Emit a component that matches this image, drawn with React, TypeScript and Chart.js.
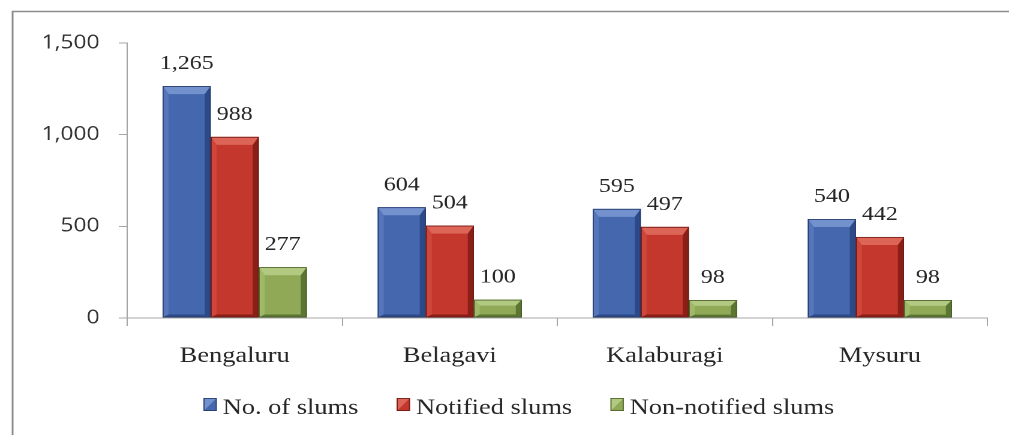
import React, { useEffect, useRef } from 'react';
import { Chart, registerables } from 'chart.js';

Chart.register(...registerables);

const categories = ['Bengaluru', 'Belagavi', 'Kalaburagi', 'Mysuru'];
const seriesNames = ['No. of slums', 'Notified slums', 'Non-notified slums'];
const totalSlums = [1265, 604, 595, 540];
const notifiedSlums = [988, 504, 497, 442];
const nonNotifiedSlums = [277, 100, 98, 98];
const yMin = 0;
const yMax = 1500;
const yStep = 500;

const baseColors = ['#4567ae', '#c4372d', '#8fa957'];
const topColors = ['#7391cc', '#dd6558', '#b2c982'];
const leftColors = ['#5576bb', '#ce463c', '#9fb968'];
const sideColors = ['#2d4a88', '#8a1f17', '#5b7532'];
const outlineColors = ['#223869', '#6b1711', '#475c26'];

const SERIF = '"Liberation Serif", "Times New Roman", serif';
const SANS = '"Open Sans", "Liberation Sans", sans-serif';
const TEXT_COLOR = '#262626';

const CANVAS_W = 841;
const CANVAS_H = 435;
const DISPLAY_W = 1009;

const borderPlugin = {
  id: 'frameBorder',
  beforeDraw(chart: any) {
    const ctx = chart.ctx;
    ctx.save();
    ctx.strokeStyle = '#8c8c8c';
    ctx.lineWidth = 1.5;
    ctx.beginPath();
    ctx.moveTo(10.5, chart.height + 5);
    ctx.lineTo(10.5, 11.5);
    ctx.lineTo(chart.width + 5, 11.5);
    ctx.stroke();
    ctx.restore();
  },
};

const bevelPlugin = {
  id: 'bevelBars',
  afterDatasetsDraw(chart: any) {
    const ctx = chart.ctx;
    chart.data.datasets.forEach((ds: any, di: number) => {
      const meta = chart.getDatasetMeta(di);
      meta.data.forEach((bar: any) => {
        const { x, y, base, width } = bar.getProps(['x', 'y', 'base', 'width'], true);
        const left = x - width / 2;
        const right = x + width / 2;
        const top = Math.min(y, base);
        const bottom = Math.max(y, base);
        const h = bottom - top;
        const b = Math.min(5, width / 4);
        const bv = Math.min(8, h / 3);
        const bb = Math.min(3, h / 6);
        ctx.save();
        ctx.fillStyle = topColors[di];
        ctx.beginPath();
        ctx.moveTo(left, top);
        ctx.lineTo(right, top);
        ctx.lineTo(right - b, top + bv);
        ctx.lineTo(left + b, top + bv);
        ctx.closePath();
        ctx.fill();
        ctx.fillStyle = leftColors[di];
        ctx.beginPath();
        ctx.moveTo(left, top);
        ctx.lineTo(left + b, top + bv);
        ctx.lineTo(left + b, bottom - bb);
        ctx.lineTo(left, bottom);
        ctx.closePath();
        ctx.fill();
        ctx.fillStyle = sideColors[di];
        ctx.beginPath();
        ctx.moveTo(right, top);
        ctx.lineTo(right - b, top + bv);
        ctx.lineTo(right - b, bottom - bb);
        ctx.lineTo(right, bottom);
        ctx.closePath();
        ctx.fill();
        ctx.beginPath();
        ctx.moveTo(left, bottom);
        ctx.lineTo(left + b, bottom - bb);
        ctx.lineTo(right - b, bottom - bb);
        ctx.lineTo(right, bottom);
        ctx.closePath();
        ctx.fill();
        ctx.strokeStyle = outlineColors[di];
        ctx.lineWidth = 0.8;
        ctx.strokeRect(left + 0.4, top + 0.4, width - 0.8, h - 0.8);
        ctx.restore();
      });
    });
  },
};

const valueLabelPlugin = {
  id: 'valueLabels',
  afterDatasetsDraw(chart: any) {
    const ctx = chart.ctx;
    ctx.save();
    ctx.font = '20px ' + SERIF;
    ctx.fillStyle = TEXT_COLOR;
    ctx.textAlign = 'center';
    ctx.textBaseline = 'alphabetic';
    chart.data.datasets.forEach((ds: any, di: number) => {
      const meta = chart.getDatasetMeta(di);
      meta.data.forEach((bar: any, i: number) => {
        const v = ds.data[i];
        ctx.fillText(Number(v).toLocaleString('en-US'), bar.x, bar.y - 17);
      });
    });
    ctx.restore();
  },
};

const legendPlugin = {
  id: 'customLegend',
  afterDraw(chart: any) {
    const ctx = chart.ctx;
    ctx.save();
    ctx.font = '22px ' + SERIF;
    const boxW = 11;
    const boxH = 13;
    const gap = 5;
    const itemGap = 32;
    const items = chart.data.datasets.map((ds: any, di: number) => ({
      label: ds.label,
      di,
      w: boxW + gap + ctx.measureText(ds.label).width,
    }));
    const total = items.reduce((s: number, it: any) => s + it.w, 0) + itemGap * (items.length - 1);
    let x = chart.width / 2 + 12 - total / 2;
    const baseline = chart.height - 21;
    items.forEach((it: any) => {
      const by = baseline - 16;
      ctx.fillStyle = baseColors[it.di];
      ctx.fillRect(x, by, boxW, boxH);
      ctx.fillStyle = topColors[it.di];
      ctx.beginPath();
      ctx.moveTo(x, by);
      ctx.lineTo(x + boxW, by);
      ctx.lineTo(x, by + boxH);
      ctx.closePath();
      ctx.fill();
      ctx.strokeStyle = outlineColors[it.di];
      ctx.lineWidth = 0.8;
      ctx.strokeRect(x + 0.4, by + 0.4, boxW - 0.8, boxH - 0.8);
      ctx.fillStyle = TEXT_COLOR;
      ctx.textAlign = 'left';
      ctx.textBaseline = 'alphabetic';
      ctx.fillText(it.label, x + boxW + gap, baseline);
      x += it.w + itemGap;
    });
    ctx.restore();
  },
};

export default function App() {
  const canvasRef = useRef<HTMLCanvasElement | null>(null);

  useEffect(() => {
    document.body.style.margin = '0';
    const canvas = canvasRef.current;
    if (!canvas) return;
    let chart: any = null;
    let cancelled = false;
    const seriesData = [totalSlums, notifiedSlums, nonNotifiedSlums];

    const build = () => {
      if (cancelled) return;
      chart = new Chart(canvas, {
        type: 'bar',
        data: {
          labels: categories,
          datasets: seriesNames.map((name, i) => ({
            label: name,
            data: seriesData[i],
            backgroundColor: baseColors[i],
            borderWidth: 0,
            categoryPercentage: 0.67,
            barPercentage: 1,
          })),
        },
        options: {
          responsive: false,
          animation: false,
          devicePixelRatio: 2,
          layout: { padding: { top: 43, right: 18, left: 0, bottom: 0 } },
          plugins: {
            legend: { display: false },
            tooltip: { enabled: false },
          },
          scales: {
            x: {
              afterFit: (scale: any) => {
                scale.height = 117;
              },
              grid: {
                drawOnChartArea: false,
                drawTicks: true,
                tickLength: 8,
                color: '#a6a6a6',
                offset: true,
              },
              border: { color: '#a6a6a6', width: 1 },
              ticks: {
                color: TEXT_COLOR,
                padding: 17,
                font: { family: SERIF, size: 22 },
              },
            },
            y: {
              min: yMin,
              max: yMax,
              afterFit: (scale: any) => {
                scale.width = 106;
              },
              grid: {
                drawOnChartArea: false,
                drawTicks: true,
                tickLength: 7,
                color: '#a6a6a6',
              },
              border: { color: '#a6a6a6', width: 1 },
              ticks: {
                stepSize: yStep,
                color: '#333333',
                padding: 16,
                font: { family: SANS, size: 19 },
                callback: (v: any) => Number(v).toLocaleString('en-US'),
              },
            },
          },
        },
        plugins: [borderPlugin, bevelPlugin, valueLabelPlugin, legendPlugin],
      });
    };

    const fontsApi: any = (document as any).fonts;
    if (fontsApi && fontsApi.load) {
      Promise.all([
        fontsApi.load('20px "Liberation Serif"'),
        fontsApi.load('22px "Liberation Serif"'),
        fontsApi.load('19px "Open Sans"'),
      ])
        .catch(() => null)
        .then(() => build());
    } else {
      build();
    }
    return () => {
      cancelled = true;
      if (chart) chart.destroy();
    };
  }, []);

  return (
    <div style={{ width: DISPLAY_W, height: CANVAS_H, overflow: 'hidden', position: 'relative' }}>
      <span
        style={{ position: 'absolute', left: -9999, top: 0, fontFamily: SERIF, fontSize: 22 }}
        aria-hidden="true"
      >
        Bengaluru 1,265
      </span>
      <span
        style={{ position: 'absolute', left: -9999, top: 30, fontFamily: SANS, fontSize: 19 }}
        aria-hidden="true"
      >
        1,500
      </span>
      <canvas
        ref={canvasRef}
        width={CANVAS_W}
        height={CANVAS_H}
        style={{ width: DISPLAY_W, height: CANVAS_H, display: 'block' }}
      />
    </div>
  );
}
